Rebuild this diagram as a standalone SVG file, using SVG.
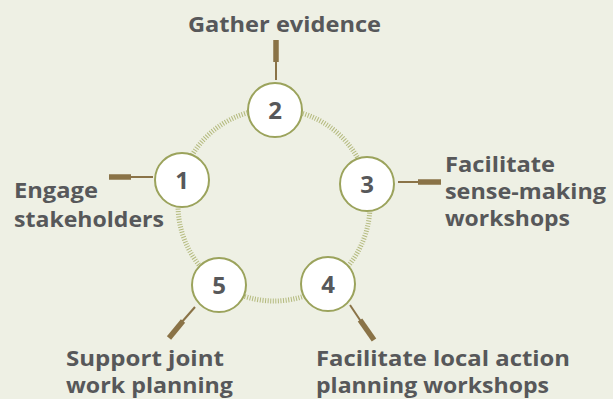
<svg xmlns="http://www.w3.org/2000/svg" width="613" height="399" viewBox="0 0 613 399">
<style>
.lbl{font-family:"Open Sans","Lato","Liberation Sans",sans-serif;font-weight:bold;font-size:21px;fill:#57585a}
.num{font-family:"Open Sans","Lato","Liberation Sans",sans-serif;font-weight:bold;font-size:24px;fill:#57585a;text-anchor:middle}
.node circle{fill:#ffffff;stroke:#9ba35c;stroke-width:2}
.thin{stroke:#8a7347;stroke-width:2;fill:none}
.thick{stroke:#8a7347;stroke-width:5.5;fill:none}
</style>
<rect width="613" height="399" fill="#eef0e4"/>
<g id="connectors">
<circle cx="274" cy="205" r="96" fill="none" stroke="#b3b97c" stroke-width="5" stroke-dasharray="1 1.6"/>
<line class="thin" x1="276" y1="60" x2="276" y2="80"/>
<line class="thick" x1="276" y1="40" x2="276" y2="62"/>
<line class="thin" x1="129" y1="177" x2="153" y2="177"/>
<line class="thick" x1="109" y1="177" x2="131" y2="177"/>
<line class="thin" x1="398" y1="182" x2="420" y2="182"/>
<line class="thick" x1="418" y1="182" x2="441" y2="182"/>
<line class="thin" x1="195" y1="307" x2="181" y2="323"/>
<line class="thick" x1="183" y1="321" x2="169" y2="338"/>
<line class="thin" x1="350" y1="305" x2="362" y2="323"/>
<line class="thick" x1="360" y1="320" x2="374" y2="340"/>
</g>
<g id="node1" class="node"><circle cx="182" cy="180" r="27"/><text class="num" x="182" y="189">1</text></g>
<g id="node2" class="node"><circle cx="275" cy="110" r="27"/><text class="num" x="275" y="119">2</text></g>
<g id="node3" class="node"><circle cx="367" cy="184" r="27"/><text class="num" x="367" y="193">3</text></g>
<g id="node4" class="node"><circle cx="328" cy="284" r="27"/><text class="num" x="328" y="293">4</text></g>
<g id="node5" class="node"><circle cx="219" cy="285" r="27"/><text class="num" x="219" y="294">5</text></g>
<g id="labels">
<text class="lbl" x="188" y="32" textLength="193" lengthAdjust="spacingAndGlyphs">Gather evidence</text>
<text class="lbl" x="14" y="198" textLength="84" lengthAdjust="spacingAndGlyphs">Engage</text>
<text class="lbl" x="14" y="227" textLength="150" lengthAdjust="spacingAndGlyphs">stakeholders</text>
<text class="lbl" x="445" y="172" textLength="110" lengthAdjust="spacingAndGlyphs">Facilitate</text>
<text class="lbl" x="445" y="199" textLength="161" lengthAdjust="spacingAndGlyphs">sense-making</text>
<text class="lbl" x="445" y="226" textLength="125" lengthAdjust="spacingAndGlyphs">workshops</text>
<text class="lbl" x="66" y="366" textLength="158" lengthAdjust="spacingAndGlyphs">Support joint</text>
<text class="lbl" x="66" y="393" textLength="167" lengthAdjust="spacingAndGlyphs">work planning</text>
<text class="lbl" x="316" y="366" textLength="254" lengthAdjust="spacingAndGlyphs">Facilitate local action</text>
<text class="lbl" x="316" y="393" textLength="233" lengthAdjust="spacingAndGlyphs">planning workshops</text>
</g>
</svg>
